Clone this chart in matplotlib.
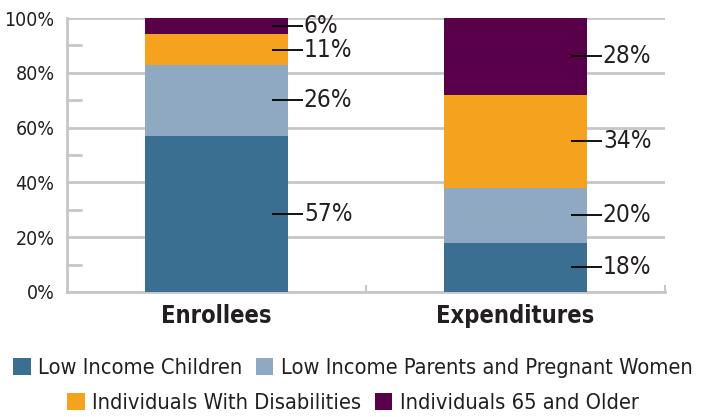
"""
Stacked share chart: enrollees vs. expenditures by eligibility group.
"""
import matplotlib
matplotlib.use("Agg")
import matplotlib.pyplot as plt
from matplotlib.patches import Patch
import numpy as np

#########################################################
# Data
#########################################################
categories = ["Enrollees", "Expenditures"]
groups = ["Low Income Children", "Low Income Parents and Pregnant Women",
          "Individuals With Disabilities", "Individuals 65 and Older"]
children = [57, 18]
parents = [26, 20]
disabled = [11, 34]
older = [6, 28]

#########################################################
# Style
#########################################################
COLORS = ["#3a6f92", "#8fa9c2", "#f5a21f", "#58004a"]
GRID = "#c6c6ca"
TEXT = "#231f20"

# condensed face, closest to the original narrow font
plt.rcParams["font.family"] = ["DejaVu Sans"]
plt.rcParams["font.stretch"] = "condensed"

fig = plt.figure(figsize=(7.06, 4.17), dpi=100)
ax = fig.add_axes([0.0949, 0.2998, 0.8471, 0.657])

x = np.arange(len(categories))
w = 0.48
series = [children, parents, disabled, older]
bottom = np.zeros(len(categories))
for vals, color, name in zip(series, COLORS, groups):
    vals = np.array(vals, dtype=float)
    ax.bar(x, vals, w, bottom=bottom, color=color, label=name, zorder=3)
    # leader line + label at the middle of each segment
    for xi, b, v in zip(x, bottom, vals):
        mid = b + v / 2
        ax.plot([xi + 0.187, xi + 0.288], [mid, mid], color="black",
                lw=1.3, zorder=4, solid_capstyle="butt")
        ax.text(xi + 0.292, mid, f"{v:.0f}%", ha="left", va="center",
                fontsize=17.5, color=TEXT, zorder=5)
    bottom += vals

#########################################################
# Axes
#########################################################
ax.set_xlim(-0.5, 1.5)
ax.set_ylim(0, 100)
ax.set_yticks(np.arange(0, 101, 20))
ax.set_yticklabels([f"{v}%" for v in range(0, 101, 20)], fontsize=14, color=TEXT)
ax.set_yticks(np.arange(10, 100, 20), minor=True)
ax.tick_params(axis="y", which="major", length=0, pad=9)
ax.tick_params(axis="y", which="minor", direction="in", length=11,
               width=2, color=GRID)
ax.grid(axis="y", color=GRID, lw=2, zorder=1)

ax.set_xticks(x)
ax.set_xticklabels(categories, fontsize=17, fontweight="bold", color=TEXT)
ax.tick_params(axis="x", which="major", length=0, pad=9)
ax.set_xticks([0.5, 1.5], minor=True)
ax.tick_params(axis="x", which="minor", direction="in", length=5,
               width=1.5, color=GRID)

for side in ["top", "right"]:
    ax.spines[side].set_visible(False)
for side in ["left", "bottom"]:
    ax.spines[side].set_color(GRID)
    ax.spines[side].set_linewidth(2)

#########################################################
# Legend (two centred rows)
#########################################################
handles = [Patch(facecolor=c, edgecolor="none") for c in COLORS]
leg_kw = dict(frameon=False, fontsize=15.7, handlelength=0.8, handleheight=0.8,
              handletextpad=0.35, columnspacing=0.6, labelcolor=TEXT,
              borderaxespad=0, loc="center")
fig.legend(handles[:2], groups[:2], ncol=2,
           bbox_to_anchor=(0.5, 1 - 368 / 417), **leg_kw)
fig.legend(handles[2:], groups[2:], ncol=2,
           bbox_to_anchor=(0.5, 1 - 403 / 417), **leg_kw)

fig.savefig("out.png", dpi=100)
